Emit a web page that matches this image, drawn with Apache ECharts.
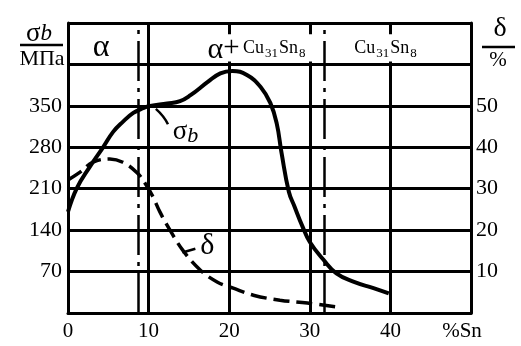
<!DOCTYPE html>
<html>
<head>
<meta charset="utf-8">
<script src="https://cdn.jsdelivr.net/npm/echarts@6/dist/echarts.min.js"></script>
<style>
  html, body { margin: 0; padding: 0; background: #fff; }
  #chart { width: 521px; height: 346px; }
</style>
</head>
<body>
<div id="chart"></div>
<script>
// Tin content, % Sn (x axis)
const snTicks = [0, 10, 20, 30, 40, 50];
const snUnit = '%Sn';

// Tensile strength σb, MPa (left axis)
const strengthSn  = [0, 1.1, 2.7, 4.35, 5.6, 6.8, 8.1, 9.3, 10.2, 12.3, 13.9, 15.2, 17.3, 18.9, 20.4, 22.2, 23.9, 25.1, 25.9, 26.5, 27.4, 28.1, 29.1, 30.0, 31.7, 33.3, 35.4, 37.9, 39.8];
const strengthMPa = [171, 211, 247, 280, 306, 323, 338, 346, 350, 354, 358, 368, 390, 405, 409, 402, 382, 355, 320, 270, 205, 180, 146, 120, 90, 67, 53, 42, 33];
const strengthTicks = [70, 140, 210, 280, 350];

// Elongation δ, % (right axis)
const elongSn  = [0, 1.5, 3.1, 5.2, 6.8, 8.6, 9.6, 10.5, 11.4, 12.6, 14.3, 16.4, 18.5, 20.5, 23.0, 26.3, 29.7, 33.5];
const elongPct = [32.1, 34.0, 36.4, 37.2, 36.4, 33.8, 31.2, 28.2, 24.4, 20.2, 15.0, 10.4, 7.5, 6.0, 4.3, 3.1, 2.4, 1.4];
const elongTicks = [10, 20, 30, 40, 50];

// Phase boundaries, % Sn
const phaseBounds = [8.7, 31.8];

const SERIF = '"Liberation Serif", "DejaVu Serif", serif';
const zip = (xs, ys) => xs.map((x, i) => [x, ys[i]]);

const chart = echarts.init(document.getElementById('chart'), null, { renderer: 'canvas' });

const black = '#000';
const axisLine = { show: true, onZero: false, lineStyle: { color: black, width: 3 } };

chart.setOption({
  animation: false,
  backgroundColor: '#fff',
  grid: { left: 68, right: 50, top: 23, bottom: 33, containLabel: false },
  xAxis: {
    type: 'value', min: snTicks[0], max: snTicks[snTicks.length - 1], interval: 10,
    axisLine: axisLine,
    axisTick: { show: false },
    splitLine: { show: true, lineStyle: { color: black, width: 3 } },
    axisLabel: {
      color: black, fontFamily: SERIF, fontSize: 21, margin: 8,
      formatter: v => v === snTicks[snTicks.length - 1] ? '{u|' + snUnit + '}' : String(v),
      rich: { u: { fontFamily: SERIF, fontSize: 21, color: black, padding: [0, 18, 0, 0] } }
    }
  },
  yAxis: [
    {
      type: 'value', min: 0, max: 490, interval: 70, position: 'left',
      axisLine: axisLine,
      axisTick: { show: false },
      splitLine: { show: true, showMinLine: false, showMaxLine: true, lineStyle: { color: black, width: 3 } },
      axisLabel: {
        color: black, fontFamily: SERIF, fontSize: 22, margin: 6,
        formatter: v => strengthTicks.includes(v) ? String(v) : ''
      }
    },
    {
      type: 'value', min: 0, max: 70, interval: 10, position: 'right',
      axisLine: axisLine,
      axisTick: { show: false },
      splitLine: { show: false },
      axisLabel: {
        color: black, fontFamily: SERIF, fontSize: 22, margin: 5,
        formatter: v => elongTicks.includes(v) ? String(v) : ''
      }
    }
  ],
  series: [
    {
      name: 'σb', type: 'line', yAxisIndex: 0,
      data: zip(strengthSn, strengthMPa),
      smooth: 0.45, symbol: 'none',
      lineStyle: { color: black, width: 4 },
      markLine: {
        silent: true, symbol: ['none', 'none'], label: { show: false },
        lineStyle: { color: black, width: 2.5, type: [40, 7, 4, 7] },
        data: phaseBounds.map(x => ({ xAxis: x }))
      },
      z: 5
    },
    {
      name: 'δ', type: 'line', yAxisIndex: 1,
      data: zip(elongSn, elongPct),
      smooth: 0.4, symbol: 'none',
      lineStyle: { color: black, width: 3.5, type: [16, 7] },
      z: 5
    }
  ]
});

// Annotations placed in data coordinates
const px = (x, y, axis) => chart.convertToPixel({ xAxisIndex: 0, yAxisIndex: axis || 0 }, [x, y]);

const main = { fontFamily: SERIF, fontSize: 18, color: black };
const sub = { fontFamily: SERIF, fontSize: 13, color: black, padding: [10, 1, 0, 1] };

// phase names in the top band
const pA = px(4.1, 449);
const pA2 = px(17.3, 447);
const pC = px(35.5, 447);
// white gaps in the solid grid lines behind the phase names
const m1a = px(16.9, 471), m1b = px(30.9, 425);
const m2a = px(35.0, 471), m2b = px(44.0, 425);

const pSig = px(13.0, 306);
const pDel = px(16.4, 16.2, 1);
const l1a = px(10.9, 345), l1b = px(11.9, 333), l1c = px(12.4, 319);
const l2a = px(14.2, 14.6, 1), l2b = px(15.8, 15.5, 1);

chart.setOption({
  graphic: [
    { type: 'rect', z: 90, shape: { x: m1a[0], y: m1a[1], width: m1b[0] - m1a[0], height: m1b[1] - m1a[1] }, style: { fill: '#fff' } },
    { type: 'rect', z: 90, shape: { x: m2a[0], y: m2a[1], width: m2b[0] - m2a[0], height: m2b[1] - m2a[1] }, style: { fill: '#fff' } },
    { type: 'text', z: 100, x: pA[0], y: pA[1],
      style: { text: 'α', font: '32px ' + SERIF, fill: black, align: 'center', verticalAlign: 'middle' } },
    { type: 'text', z: 100, x: pA2[0], y: pA2[1],
      style: {
        text: '{a|α}{p|+}{g| }{m|Cu}{s|31}{m|Sn}{s|8}', align: 'left', verticalAlign: 'middle',
        rich: {
          a: { fontFamily: SERIF, fontSize: 30, color: black, padding: [4, 0, 0, 0] },
          p: { fontFamily: SERIF, fontSize: 29, color: black, padding: [0, 0, 1, 0] },
          g: { fontFamily: SERIF, fontSize: 14, color: black },
          m: main, s: sub
        }
      } },
    { type: 'text', z: 100, x: pC[0], y: pC[1],
      style: {
        text: '{m|Cu}{s|31}{m|Sn}{s|8}', align: 'left', verticalAlign: 'middle',
        rich: { m: main, s: sub }
      } },
    { type: 'text', z: 100, x: pSig[0], y: pSig[1],
      style: {
        text: '{g|σ}{b|b}', align: 'left', verticalAlign: 'middle',
        rich: { g: { fontFamily: SERIF, fontSize: 27, color: black }, b: { fontFamily: SERIF, fontSize: 22, fontStyle: 'italic', color: black, padding: [8, 0, 0, 0] } }
      } },
    { type: 'text', z: 100, x: pDel[0], y: pDel[1],
      style: { text: 'δ', font: '30px ' + SERIF, fill: black, align: 'left', verticalAlign: 'middle' } },
    { type: 'bezierCurve', z: 100,
      shape: { x1: l1a[0], y1: l1a[1], cpx1: l1b[0], cpy1: l1b[1], x2: l1c[0], y2: l1c[1] },
      style: { stroke: black, lineWidth: 2.5, fill: null } },
    { type: 'line', z: 100,
      shape: { x1: l2a[0], y1: l2a[1], x2: l2b[0], y2: l2b[1] },
      style: { stroke: black, lineWidth: 2.5 } },

    // axis units, left: σb / МПа
    { type: 'text', z: 100, x: 26, y: 34,
      style: {
        text: '{g|σ}{b|b}', align: 'left', verticalAlign: 'middle',
        rich: { g: { fontFamily: SERIF, fontSize: 27, color: black }, b: { fontFamily: SERIF, fontSize: 23, fontStyle: 'italic', color: black } }
      } },
    { type: 'line', z: 100, shape: { x1: 20, y1: 45, x2: 63, y2: 45 }, style: { stroke: black, lineWidth: 2.5 } },
    { type: 'text', z: 100, x: 42, y: 59,
      style: { text: 'МПа', font: '22px ' + SERIF, fill: black, align: 'center', verticalAlign: 'middle' } },

    // axis units, right: δ / %
    { type: 'text', z: 100, x: 500, y: 29,
      style: { text: 'δ', font: '28px ' + SERIF, fill: black, align: 'center', verticalAlign: 'middle' } },
    { type: 'line', z: 100, shape: { x1: 482, y1: 47, x2: 515, y2: 47 }, style: { stroke: black, lineWidth: 2.5 } },
    { type: 'text', z: 100, x: 498, y: 60,
      style: { text: '%', font: '21px ' + SERIF, fill: black, align: 'center', verticalAlign: 'middle' } }
  ]
});
</script>
</body>
</html>
